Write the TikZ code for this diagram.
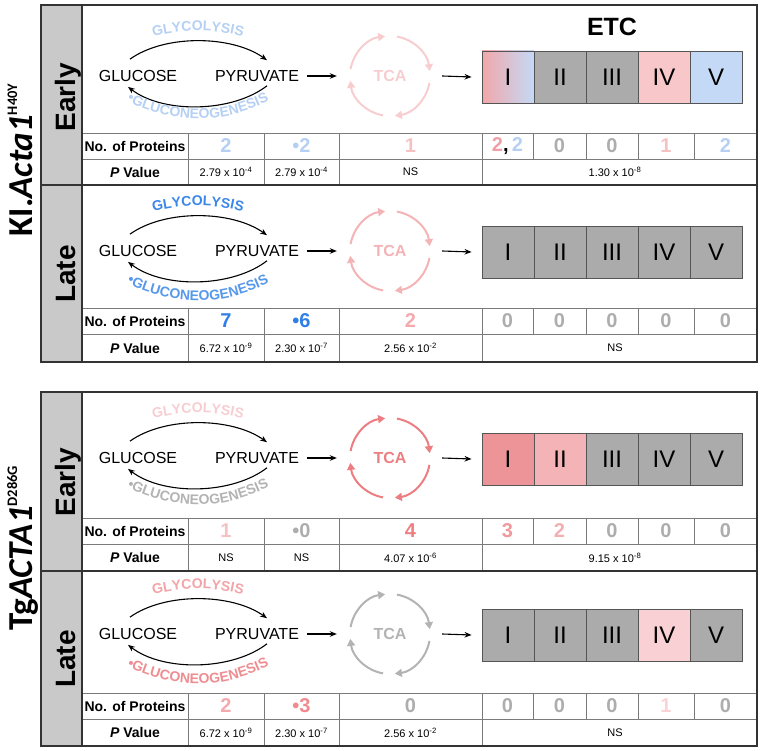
\documentclass[tikz,border=0pt]{standalone}
\usepackage{fontspec}
\setmainfont{Liberation Sans}
\newfontfamily\labelfont{Carlito}
\usetikzlibrary{arrows.meta,decorations.text}

\definecolor{lblue}{HTML}{B5D0F3}
\definecolor{mblue}{HTML}{3A86EA}
\definecolor{mblueB}{HTML}{5698EB}
\definecolor{nblue}{HTML}{2F7FE6}
\definecolor{tcapinkL}{HTML}{F7CDCF}
\definecolor{tcapink}{HTML}{F4B4B6}
\definecolor{salmon}{HTML}{EC7E81}
\definecolor{lpinkB}{HTML}{F6CDD0}
\definecolor{mpink}{HTML}{F2A4A8}
\definecolor{mpinkB}{HTML}{EE8D91}
\definecolor{greytxt}{HTML}{B3B3B3}
\definecolor{numgray}{HTML}{ADADAD}
\definecolor{boxgray}{HTML}{ABABAB}
\definecolor{boxline}{HTML}{555555}
\definecolor{colgray}{HTML}{C9C9C9}
\definecolor{gridc}{HTML}{7A7A7A}
\definecolor{framec}{HTML}{333333}
\definecolor{etcpinkA}{HTML}{F2A7AA}
\definecolor{etcblue}{HTML}{C4D9F6}
\definecolor{etcpinkL}{HTML}{F8C7CA}
\definecolor{etcI}{HTML}{EC9497}
\definecolor{etcII}{HTML}{F4B3B6}
\definecolor{etcIV}{HTML}{F9D0D3}
\definecolor{npinkL}{HTML}{F5C2C4}
\definecolor{npinkM}{HTML}{F0A0A4}
\definecolor{npink}{HTML}{F4AAAD}
\definecolor{nsalmon}{HTML}{EE7E82}
\definecolor{nthree}{HTML}{F0989B}
\definecolor{ntwo}{HTML}{F3AFB2}
\definecolor{nvlpink}{HTML}{F9D3D5}
\definecolor{nbpink}{HTML}{F08A8E}

\tikzset{
  lbl/.style={inner sep=0pt, font=\fontsize{16}{18}\selectfont},
  flow/.style={line width=1.1pt, -{Stealth[length=7pt,width=5.5pt]}},
  tcaarc/.style={line width=2pt, -{Triangle[length=7pt,width=8pt]}},
  etcbox/.style={draw=boxline, line width=0.9pt, minimum width=52pt, minimum height=52pt, inner sep=0pt, font=\fontsize{24}{26}\selectfont},
  numtxt/.style={inner sep=0pt, font=\bfseries\fontsize{20}{22}\selectfont},
  pvtxt/.style={inner sep=0pt, font=\fontsize{11}{13}\selectfont},
  rowhead/.style={inner sep=0pt, font=\bfseries\fontsize{14}{16}\selectfont},
  gridln/.style={draw=gridc, line width=0.8pt},
  framebox/.style={draw=framec, line width=2pt},
  sepln/.style={draw=framec, line width=1.5pt},
  phase/.style={rotate=90, anchor=base, inner sep=0pt, font=\bfseries\fontsize{28}{30}\selectfont},
  model/.style={rotate=90, anchor=base, inner sep=0pt, font=\labelfont\bfseries\fontsize{35}{37}\selectfont},
}

\newcommand{\pv}[2]{#1 x 10\textsuperscript{#2}}
\newcommand{\supl}[1]{\raisebox{15pt}{\fontsize{14.5}{15}\selectfont #1}}

% #1 prefix, #2 glucose y, #3 glycolysis colour, #4 gluconeogenesis colour, #5 TCA colour, #6 shift
\newcommand{\pathway}[6]{%
  \node[lbl] (#1glu) at (138,-#2) {GLUCOSE};
  \node[lbl] (#1pyr) at (257,-#2) {PYRUVATE};
  \draw[flow] ([shift={(-8,11)}]#1glu.north) .. controls +(35,25) and +(-35,25) .. ([shift={(10,10)}]#1pyr.north);
  \draw[flow] ([shift={(10,-4)}]#1pyr.south) .. controls +(-35,-27) and +(35,-27) .. ([shift={(-10,-5)}]#1glu.south);
  \path[decorate, decoration={text along path, text align=center,
      text={|\bfseries\fontsize{14}{16}\selectfont\color{#3}|GLYCOLYSIS}}]
    (138,{-(#2-34)}) .. controls (174,{-(#2-49)}) and (222,{-(#2-49)}) .. (258,{-(#2-34)});
  \path[decorate, decoration={text along path, text align=center,
      text={|\bfseries\fontsize{14}{16}\selectfont\color{#4}|•GLUCONEOGENESIS}}]
    (114,{-(#2+24+(#6))}) .. controls (170,{-(#2+57+(#6))}) and (226,{-(#2+57+(#6))}) .. (282,{-(#2+24+(#6))});
  \node[circle, minimum size=80pt, inner sep=0pt, text=#5, font=\bfseries\fontsize{16}{18}\selectfont] (#1tca) at (390,-#2) {TCA};
  \foreach \a in {170,80,-10,-100}
    \draw[tcaarc, color=#5] (#1tca.center) ++(\a:40) arc[start angle=\a, end angle=\a-73, radius=40];
  \draw[flow] ([xshift=8pt]#1pyr.east) -- ([xshift=-13pt]#1tca.west);
}

% #1 prefix, #2 y, #3-#7 fills
\newcommand{\etcrow}[7]{%
  \node[etcbox, #3] (#1e1) at (508,{-(#2+1)}) {I};
  \node[etcbox, #4] (#1e2) at (560,{-(#2+1)}) {II};
  \node[etcbox, #5] (#1e3) at (612,{-(#2+1)}) {III};
  \node[etcbox, #6] (#1e4) at (664,{-(#2+1)}) {IV};
  \node[etcbox, #7] (#1e5) at (716,{-(#2+1)}) {V};
  \draw[flow] ([xshift=12pt]#1tca.east) -- ([xshift=-10pt]#1e1.west);
}

% #1 prefix, #2 r1, #3 r2, #4 r3
\newcommand{\tablegrid}[4]{%
  \draw[gridln] (82,-#2) -- (757,-#2);
  \draw[gridln] (82,-#3) -- (757,-#3);
  \foreach \xx in {188,264,339,482} \draw[gridln] (\xx,-#2) -- (\xx,-#4);
  \foreach \xx in {533,586,638,694} \draw[gridln] (\xx,-#2) -- (\xx,-#3);
  \node[rowhead] (#1h1) at (135,{-(#2+#3)/2}) {No. of Proteins};
  \node[rowhead] (#1h2) at (135,{-(#3+#4)/2}) {\textit{P} Value};
}

\newcommand{\numsleft}[5]{%
  \node[numtxt] (#1n1) at (226,-#2) {#3};
  \node[numtxt] (#1n2) at (301.5,-#2) {#4};
  \node[numtxt] (#1n3) at (410.5,-#2) {#5};
}
\newcommand{\numsetc}[7]{%
  \node[numtxt] (#1n4) at (507.5,-#2) {#3};
  \node[numtxt] (#1n5) at (559.5,-#2) {#4};
  \node[numtxt] (#1n6) at (612,-#2) {#5};
  \node[numtxt] (#1n7) at (666,-#2) {#6};
  \node[numtxt] (#1n8) at (725.5,-#2) {#7};
}
\newcommand{\pvals}[6]{%
  \node[pvtxt] (#1p1) at (226,-#2) {#3};
  \node[pvtxt] (#1p2) at (301.5,-#2) {#4};
  \node[pvtxt] (#1p3) at (410.5,-#2) {#5};
  \node[pvtxt] (#1p4) at (615,-#2) {#6};
}

\begin{document}
\begin{tikzpicture}[x=1pt,y=1pt]
\path[use as bounding box] (0,0) rectangle (764,-751);

% ---------- gray phase columns ----------
\fill[colgray] (41,-5) rectangle (82,-362);
\fill[colgray] (41,-392) rectangle (82,-746);

% ---------- top panel ----------
\node[model] (topmodel) at (32,-160) {KI.\textit{Acta1}\supl{H40Y}};
\node[phase] (aph) at (75,-97) {Early};
\node[phase] (bph) at (75,-274) {Late};

\node[inner sep=0pt, font=\bfseries\fontsize{25}{27}\selectfont] (etclabel) at (612,-27) {ETC};

\pathway{a}{76}{lblue}{lblue}{tcapinkL}{-6}
\etcrow{a}{76}{left color=etcpinkA, right color=etcblue}{fill=boxgray}{fill=boxgray}{fill=etcpinkL}{fill=etcblue}
\tablegrid{a}{133}{159}{185}
\numsleft{a}{146}{\color{lblue}2}{\color{lblue}•2}{\color{npinkL}1}
\numsetc{a}{146}{\color{npinkM}2\color{black},\,\color{lblue}2}{\color{numgray}0}{\color{numgray}0}{\color{npinkL}1}{\color{lblue}2}
\pvals{a}{172}{\pv{2.79}{-4}}{\pv{2.79}{-4}}{NS}{\pv{1.30}{-8}}

\pathway{b}{251}{mblue}{mblueB}{tcapink}{1}
\etcrow{b}{251}{fill=boxgray}{fill=boxgray}{fill=boxgray}{fill=boxgray}{fill=boxgray}
\tablegrid{b}{308}{334}{362}
\numsleft{b}{321}{\color{nblue}7}{\color{nblue}•6}{\color{npink}2}
\numsetc{b}{321}{\color{numgray}0}{\color{numgray}0}{\color{numgray}0}{\color{numgray}0}{\color{numgray}0}
\pvals{b}{348}{\pv{6.72}{-9}}{\pv{2.30}{-7}}{\pv{2.56}{-2}}{NS}

\draw[sepln] (41,-185) -- (757,-185);
\draw[sepln] (82,-5) -- (82,-362);
\draw[framebox] (41,-5) rectangle (757,-362);

% ---------- bottom panel ----------
\node[model] (botmodel) at (32,-548) {Tg\textit{ACTA1}\supl{D286G}};
\node[phase] (cph) at (75,-482) {Early};
\node[phase] (dph) at (75,-659) {Late};

\pathway{c}{458}{lpinkB}{greytxt}{salmon}{-2}
\etcrow{c}{458}{fill=etcI}{fill=etcII}{fill=boxgray}{fill=boxgray}{fill=boxgray}
\tablegrid{c}{518}{544}{571}
\numsleft{c}{531}{\color{npinkL}1}{\color{numgray}•0}{\color{nsalmon}4}
\numsetc{c}{531}{\color{nthree}3}{\color{ntwo}2}{\color{numgray}0}{\color{numgray}0}{\color{numgray}0}
\pvals{c}{557.5}{NS}{NS}{\pv{4.07}{-6}}{\pv{9.15}{-8}}

\pathway{d}{634}{mpink}{mpinkB}{greytxt}{1}
\etcrow{d}{634}{fill=boxgray}{fill=boxgray}{fill=boxgray}{fill=etcIV}{fill=boxgray}
\tablegrid{d}{693}{719}{746}
\numsleft{d}{706}{\color{npink}2}{\color{nbpink}•3}{\color{numgray}0}
\numsetc{d}{706}{\color{numgray}0}{\color{numgray}0}{\color{numgray}0}{\color{nvlpink}1}{\color{numgray}0}
\pvals{d}{732.5}{\pv{6.72}{-9}}{\pv{2.30}{-7}}{\pv{2.56}{-2}}{NS}

\draw[sepln] (41,-571) -- (757,-571);
\draw[sepln] (82,-392) -- (82,-746);
\draw[framebox] (41,-392) rectangle (757,-746);
\end{tikzpicture}
\end{document}
